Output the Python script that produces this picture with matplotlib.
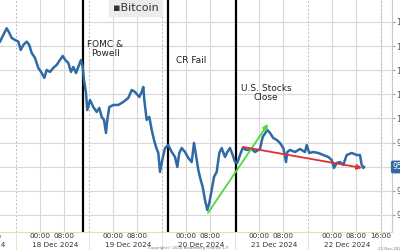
import matplotlib.pyplot as plt
import matplotlib.transforms as mtransforms

# hours since 17 Dec 2024 00:00 and Bitcoin price (USD)
hours = [10.85, 11.93, 13.05, 13.91, 14.70, 15.78, 16.87, 17.66, 18.51, 19.63,
         20.48, 21.27, 22.36, 23.44, 24.56, 25.42, 26.20, 27.29, 28.37, 29.49,
         30.58, 31.47, 32.32, 33.31, 34.19, 34.95, 35.84, 36.59, 37.48, 38.04,
         38.47, 39.13, 39.55, 40.44, 41.53, 42.64, 43.50, 44.29, 45.04, 45.70,
         46.13, 46.79, 48.10, 49.75, 51.39, 53.03, 54.15, 55.24, 56.65, 57.44,
         57.97, 58.30, 59.08, 59.94, 60.73, 61.49, 62.14, 62.90, 63.46, 64.21,
         65.10, 66.19, 67.30, 68.39, 69.15, 69.80, 70.59, 71.68, 72.76, 73.88,
         74.64, 75.29, 76.05, 76.84, 77.50, 78.25, 79.01, 79.67, 80.46, 81.21,
         82.10, 82.96, 83.74, 84.83, 85.59, 86.47, 87.36, 88.12, 88.87, 89.76,
         90.65, 91.96, 93.61, 94.69, 96.33, 97.23, 98.08, 98.74, 99.63, 100.71,
         101.83, 102.91, 104.00, 104.89, 105.31, 106.20, 107.85, 109.49, 111.13, 111.69,
         112.55, 113.86, 115.51, 117.15, 118.79, 119.91, 120.67, 121.56, 122.64, 123.73,
         124.84, 126.49, 128.13, 129.21, 129.77, 130.30, 130.53]
price = [106370, 106920, 107480, 107090, 106670, 106510, 106370, 105680, 106090, 106370,
         106090, 105430, 105020, 104190, 103770, 103360, 104020, 103860, 104190, 104440,
         104850, 105180, 104850, 104600, 103860, 104270, 103770, 104270, 104850, 104270,
         103190, 102110, 100700, 101530, 100950, 100540, 100870, 100130, 99880, 98800,
         99880, 100950, 101120, 101120, 101370, 101700, 102360, 102200, 101780, 102200,
         102610, 101530, 99880, 100130, 99050, 98220, 97640, 97140, 95570, 96560,
         97550, 97800, 97220, 96810, 95980, 97140, 97550, 97220, 96730, 96390,
         97970, 96970, 95730, 94900, 94320, 93240, 92420, 93000, 94070, 95150,
         95570, 97140, 97550, 96810, 97220, 97550, 96970, 96390, 96310, 96970,
         97550, 97390, 97470, 97220, 97470, 98470, 98800, 99050, 98800, 98380,
         98220, 97970, 97550, 96390, 97220, 97390, 97220, 97470, 97220, 97800,
         97140, 97220, 97140, 96970, 96810, 96560, 95900, 96310, 96390, 96150,
         96970, 97140, 96970, 96970, 96150, 95900, 95980]

days = ['17 Dec 2024', '18 Dec 2024', '19 Dec 2024', '20 Dec 2024', '21 Dec 2024', '22 Dec 2024']
y_ticks = [92000, 94000, 96000, 98000, 100000, 102000, 104000, 106000, 108000]

events = [38.1, 66.1, 88.4]
event_labels = ['FOMC &\nPowell', 'CR Fail', 'U.S. Stocks\nClose']
label_pos = [(45.4, 105720, 'center'), (68.7, 104770, 'left'), (98.3, 102070, 'center')]

green_arrow = [(79.24, 92170), (98.97, 99540)]
red_arrow = [(90.75, 97640), (129.88, 95900)]

blue = '#2f6aa5'
grid_c = '#d8d8d8'

fig = plt.figure(figsize=(4, 2.5), dpi=100)
ax = fig.add_axes([0, 0.072, 0.98, 0.928])

# gridlines
major = []
for d in range(1, len(days)):
    major += [24 * d, 24 * d + 8]
major.append(24 * 5 + 16)
for h in major:
    ax.axvline(h, color=grid_c, lw=0.8, zorder=0)
for d in range(len(days)):
    ax.axvline(24 * d + 16, color='#bbbbbb', lw=0.7, ls=(0, (2, 2)), zorder=0)
for p in y_ticks:
    ax.axhline(p, color=grid_c, lw=0.8, zorder=0)

for e in events:
    ax.axvline(e, color='black', lw=1.6, zorder=3)

ax.plot(hours, price, color=blue, lw=1.8, zorder=4)

for (x, y, ha), txt in zip(label_pos, event_labels):
    ax.text(x, y, txt, ha=ha, va='center', fontsize=6.5, color='#222222',
            linespacing=1.0, zorder=5)

ax.annotate('', xy=green_arrow[1], xytext=green_arrow[0], zorder=6,
            arrowprops=dict(arrowstyle='-|>', color='#4fd93a', lw=1.3,
                            mutation_scale=7, shrinkA=0, shrinkB=0))
ax.annotate('', xy=red_arrow[1], xytext=red_arrow[0], zorder=6,
            arrowprops=dict(arrowstyle='-|>', color='#e0302c', lw=1.3,
                            mutation_scale=7, shrinkA=0, shrinkB=0))

# legend box
ax.text(0.288, 0.985, '\u25aaBitcoin', transform=ax.transAxes, ha='left', va='top',
        fontsize=8, color='#333333', zorder=7,
        bbox=dict(boxstyle='square,pad=0.35', fc='#ececec', ec='none'))

# x axis
ax.set_xticks(major)
ax.set_xticklabels(['08:00' if h % 24 == 8 else ('16:00' if h % 24 == 16 else '00:00')
                    for h in major])
ax.tick_params(axis='x', length=0, pad=1, labelsize=5.2, labelcolor='#333333')

# y axis on the right, labels clipped by the figure edge
ax.yaxis.tick_right()
ax.set_yticks(y_ticks)
ax.set_yticklabels(['{:,}'.format(v) for v in y_ticks])
ax.tick_params(axis='y', length=2, pad=1, labelsize=5.5, labelcolor='#555555',
               color='#999999')

# limits after the ticks so they are not widened
ax.set_xlim(10.85, 139.74)
ax.set_ylim(90590, 109820)

trans = mtransforms.blended_transform_factory(ax.transData, ax.transAxes)
for d in range(len(days)):
    ax.plot([24 * d + 16] * 2, [0, -0.08], transform=trans, color='#e6e6c0',
            lw=0.7, clip_on=False)
for d, lab in enumerate(days):
    ax.text(24 * d + 5, -0.055, lab, transform=trans, ha='center', va='center',
            fontsize=5.2, color='#333333', clip_on=False)
ax.text(8, -0.02, '08:00', transform=trans, ha='center', va='center',
        fontsize=5.2, color='#333333', clip_on=False)

ax.text(1.002, price[-1], '95,977', transform=mtransforms.blended_transform_factory(
        ax.transAxes, ax.transData), ha='left', va='center', fontsize=5.5,
        color='white', clip_on=False, zorder=8,
        bbox=dict(boxstyle='round,pad=0.25', fc=blue, ec='none'))

for s in ['left', 'top']:
    ax.spines[s].set_visible(False)
ax.spines['right'].set_color('#c8c8c8')
ax.spines['bottom'].set_color('#e0e0b8')

fig.text(0.47, 0.002, 'Copyright\u00a9 2024 Bloomberg Finance L.P.', fontsize=2.8,
         color='#777777', ha='center')
fig.text(0.945, 0.002, '22-Dec-2024 09:42', fontsize=2.8, color='#777777', ha='left')

fig.savefig('out.png', dpi=100, facecolor='white')
